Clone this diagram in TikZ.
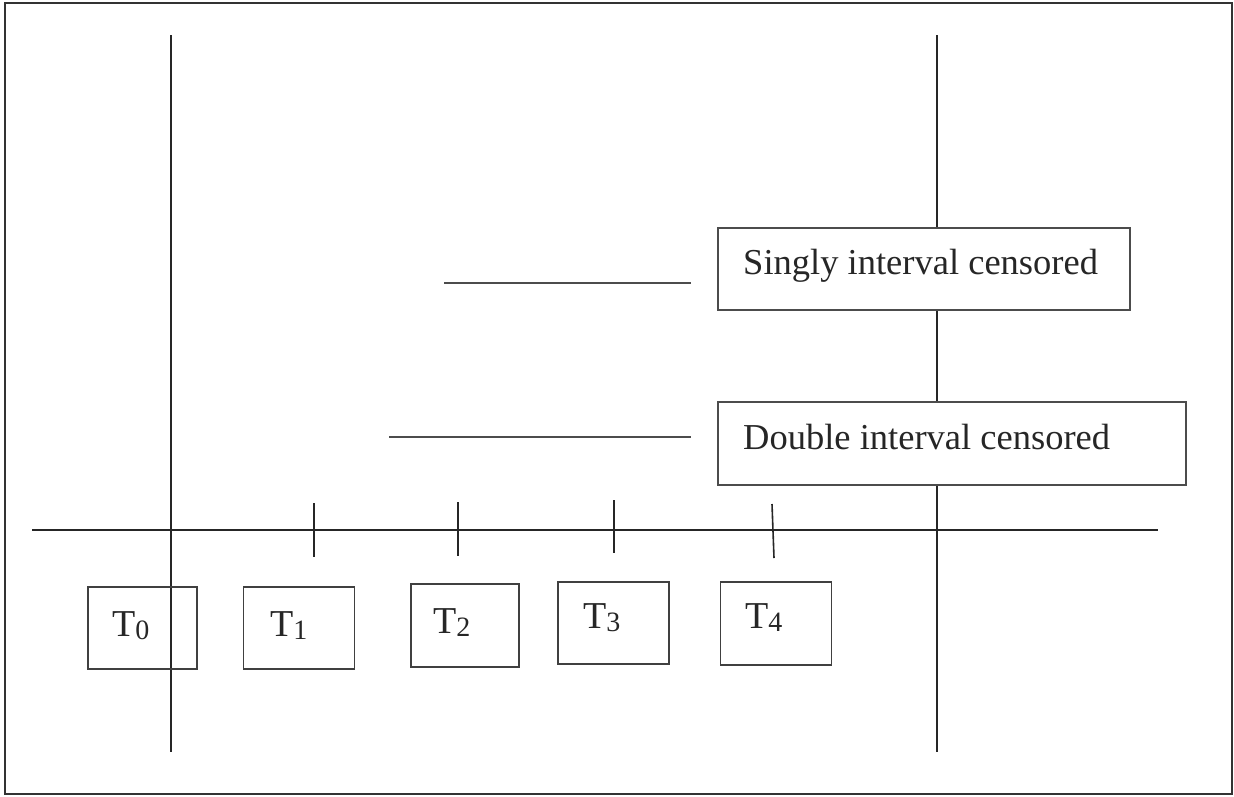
\documentclass[tikz,border=0pt]{standalone}
\usepackage{fontspec}
\setmainfont{Liberation Serif}
\begin{document}
\begin{tikzpicture}[x=1pt,y=-1pt,
  axisline/.style={line width=1.6pt,draw=black!85},
  thinline/.style={line width=1.6pt,draw=black!70},
  tbox/.style={draw=black!75,line width=1.5pt,rectangle,inner sep=0pt},
  cbox/.style={draw=black!70,line width=1.5pt,fill=white,rectangle,inner sep=0pt},
  biglabel/.style={anchor=base west,inner sep=0pt,font=\fontsize{36.5}{44}\selectfont,text=black!85},
  tlabel/.style={anchor=base west,inner sep=0pt,font=\fontsize{38}{44}\selectfont,text=black!85}]
\newcommand{\subd}[1]{{\fontsize{28}{30}\selectfont\raisebox{-3pt}{#1}}}
\useasboundingbox (0,0) rectangle (1234,796);
\draw[line width=2pt,draw=black!80] (5,3) rectangle (1232,794);
% vertical lines
\draw[axisline] (171,35) -- (171,752);
\draw[axisline] (937,35) -- (937,752);
% time axis
\draw[axisline] (32,530) -- (1158,530);
% ticks
\draw[axisline] (314,503) -- (314,557);
\draw[axisline] (458,502) -- (458,556);
\draw[axisline] (614,500) -- (614,553);
\draw[axisline] (772,504) -- (774,558);
% interval lines
\coordinate (s1) at (444,283);
\coordinate (s2) at (691,283);
\coordinate (d1) at (389,437);
\coordinate (d2) at (691,437);
\draw[thinline] (s1) -- (s2);
\draw[thinline] (d1) -- (d2);
% censoring boxes
\node[cbox,minimum width=412pt,minimum height=82pt] (sbox) at (924,269) {};
\node[biglabel] (stext) at (743,274) {Singly interval censored};
\node[cbox,minimum width=468pt,minimum height=83pt] (dbox) at (952,443.5) {};
\node[biglabel] (dtext) at (743,449) {Double interval censored};
% time boxes
\node[tbox,minimum width=109pt,minimum height=82pt] (b0) at (142.5,628) {};
\node[tbox,minimum width=111pt,minimum height=82pt] (b1) at (299,628) {};
\node[tbox,minimum width=108pt,minimum height=83pt] (b2) at (465,625.5) {};
\node[tbox,minimum width=111pt,minimum height=82pt] (b3) at (613.5,623) {};
\node[tbox,minimum width=111pt,minimum height=83pt] (b4) at (776,623.5) {};
\node[tlabel] (t0) at (112,636) {T\subd{0}};
\node[tlabel] (t1) at (270,636) {T\subd{1}};
\node[tlabel] (t2) at (433,633) {T\subd{2}};
\node[tlabel] (t3) at (583,628) {T\subd{3}};
\node[tlabel] (t4) at (745,628) {T\subd{4}};
\end{tikzpicture}
\end{document}
